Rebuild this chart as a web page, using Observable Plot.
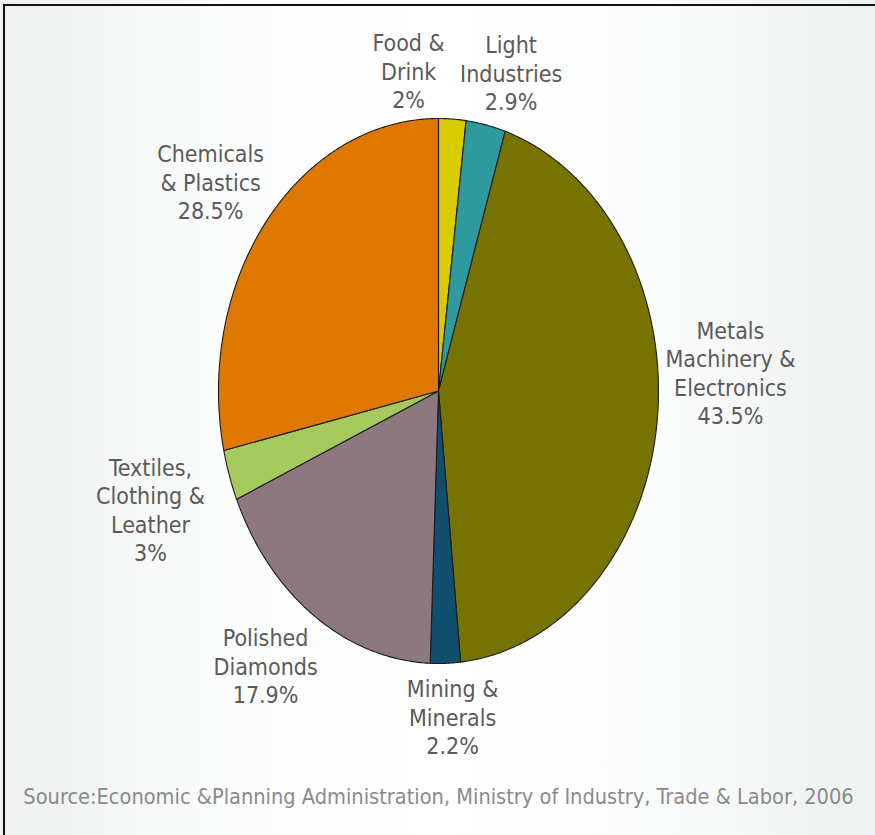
<!DOCTYPE html>
<html>
<head>
<meta charset="utf-8">
<script src="https://cdn.jsdelivr.net/npm/d3@7"></script>
<script src="https://cdn.jsdelivr.net/npm/@observablehq/plot@0.6"></script>
<style>
  html, body { margin: 0; padding: 0; }
  body { width: 875px; height: 835px; overflow: hidden; }
  #wrap {
    position: relative; width: 875px; height: 835px;
    background: linear-gradient(90deg, #eef0f0 0%, #fbfcfc 25%, #ffffff 50%, #fbfcfc 75%, #eef1f1 100%);
  }
  #wrap::after {
    content: ""; position: absolute; left: 3px; top: 4px; right: 0; bottom: 0;
    border-top: 2px solid #111; border-left: 2px solid #111; pointer-events: none;
  }
  svg { position: absolute; left: 0; top: 0; background: transparent !important; }
</style>
</head>
<body>
<div id="wrap"></div>
<script>
// ---- data ----
const sectors = ["Food & Drink", "Light Industries", "Metals Machinery & Electronics", "Mining & Minerals", "Polished Diamonds", "Textiles, Clothing & Leather", "Chemicals & Plastics"];
const shares = [2, 2.9, 43.5, 2.2, 17.9, 3, 28.5];
const labelText = ["Food &\nDrink\n2%", "Light\nIndustries\n2.9%", "Metals\nMachinery &\nElectronics\n43.5%", "Mining &\nMinerals\n2.2%", "Polished\nDiamonds\n17.9%", "Textiles,\nClothing &\nLeather\n3%", "Chemicals\n& Plastics\n28.5%"];
const colors = ["#d8cc00", "#2e9a9d", "#777300", "#0f4e6c", "#8d7880", "#a5c95c", "#de7800"];
const source = "Source:Economic &Planning Administration, Ministry of Industry, Trade & Labor, 2006";

// ---- layout (label anchors in pie-unit coordinates) ----
const labelAt = [[-0.136, 1.176], [0.33, 1.169], [1.327, 0.068], [0.064, -1.194], [-0.786, -1.007], [-1.309, -0.435], [-1.036, 0.769]];

// build slice polygons on a unit circle (12 o'clock start, clockwise)
const total = d3.sum(shares);
const pts = [];
let acc = 0;
sectors.forEach((name, i) => {
  const a0 = acc / total * 2 * Math.PI;
  acc += shares[i];
  const a1 = acc / total * 2 * Math.PI;
  const n = Math.max(2, Math.ceil((a1 - a0) / (Math.PI / 360)));
  pts.push({name, x: 0, y: 0});
  for (let k = 0; k <= n; k++) {
    const a = a0 + (a1 - a0) * k / n;
    pts.push({name, x: Math.sin(a), y: Math.cos(a)});
  }
  pts.push({name, x: 0, y: 0});
});

const labels = sectors.map((name, i) => ({name, text: labelText[i], x: labelAt[i][0], y: labelAt[i][1]}));

const chart = Plot.plot({
  width: 875,
  height: 835,
  marginLeft: 218,
  marginRight: 217,
  marginTop: 118,
  marginBottom: 172,
  x: {domain: [-1, 1], axis: null},
  y: {domain: [-1, 1], axis: null},
  color: {domain: sectors, range: colors},
  style: {fontFamily: "'DejaVu Sans Condensed', 'DejaVu Sans', sans-serif", background: "transparent", overflow: "visible"},
  marks: [
    Plot.line(pts, {x: "x", y: "y", z: "name", fill: "name", stroke: "#1c1c1c", strokeWidth: 1.1, strokeLinejoin: "round"}),
    Plot.text(labels, {x: "x", y: "y", text: "text", fill: "#5a5a5a", fontSize: 23, lineHeight: 1.24, textAnchor: "middle", lineAnchor: "middle"}),
    Plot.text([source], {x: [0], y: [-1.492], text: d => d, fill: "#8a8a8a", fontSize: 21.6, textAnchor: "middle", lineAnchor: "middle"})
  ]
});
document.getElementById("wrap").appendChild(chart);
</script>
</body>
</html>
